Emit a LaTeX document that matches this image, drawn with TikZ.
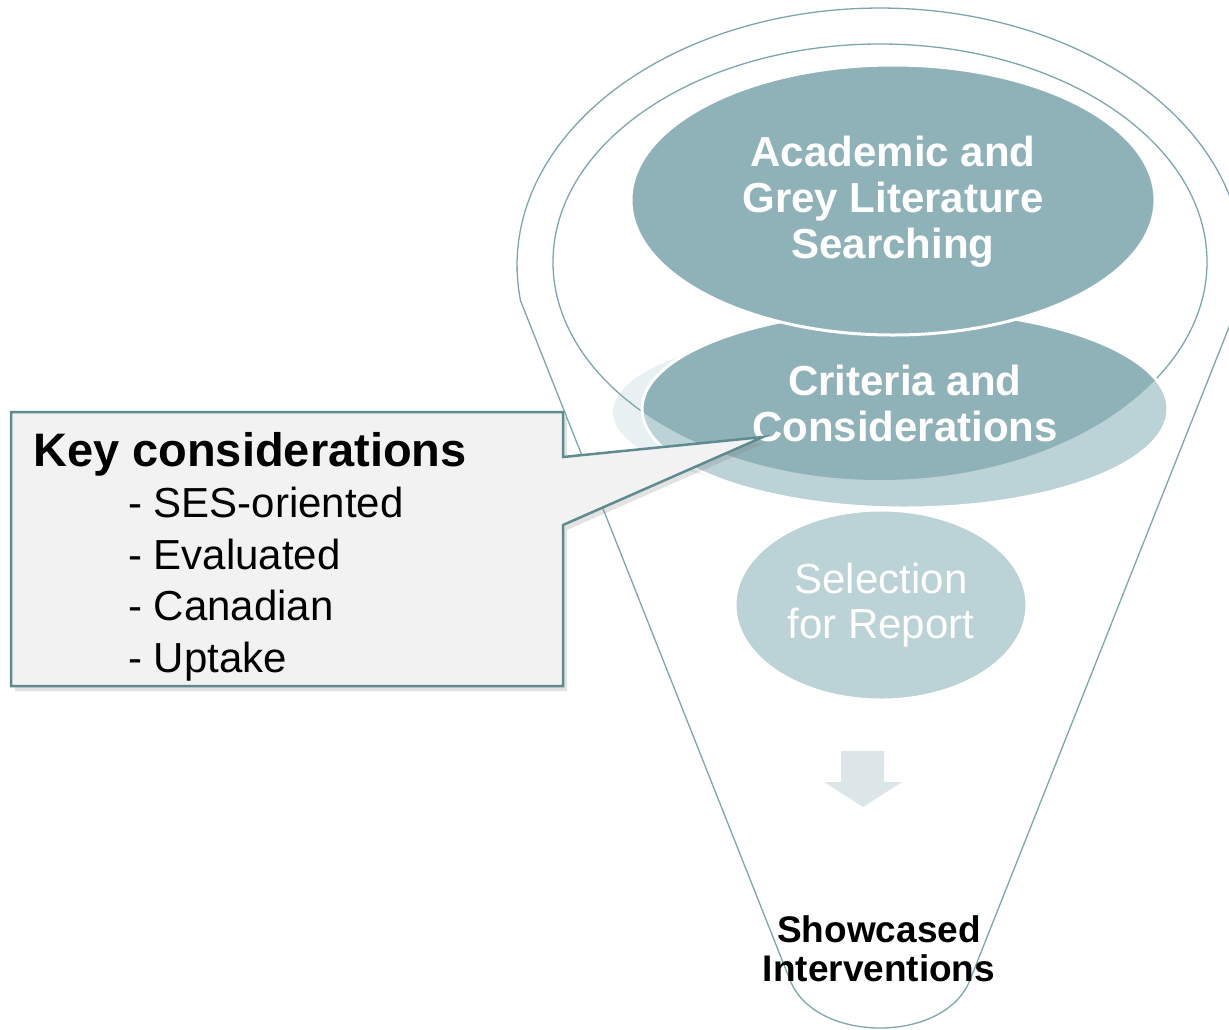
\documentclass[tikz,border=0pt]{standalone}
\usepackage{fontspec}
\setmainfont{Liberation Sans}
\usetikzlibrary{shapes.geometric,shadows}

\definecolor{funnelline}{HTML}{7DA6AC}
\definecolor{stagedark}{HTML}{8FB2B8}
\definecolor{stagepale}{HTML}{BBD2D6}
\definecolor{stageghost}{HTML}{E9F0F1}
\definecolor{arrowpale}{HTML}{DCE5E7}
\definecolor{calloutline}{HTML}{5F8A90}
\definecolor{calloutfill}{HTML}{F2F2F2}

\tikzset{
  funnel/.style={draw=funnelline, line width=1.3},
  stage/.style={ellipse, draw=white, line width=3, fill=stagedark, inner sep=0},
  stagetext/.style={text=white, align=center, inner sep=0,
    font=\fontsize{42}{46}\selectfont\bfseries},
  keytext/.style={anchor=base west, inner sep=0, font=\fontsize{42}{50}\selectfont},
}

\begin{document}
\begin{tikzpicture}[x=1pt,y=-1pt]
  \useasboundingbox (0,0) rectangle (1229,1029);

  % funnel body
  \draw[funnel] plot[domain=172:368, samples=90] ({880+363*cos(\x)},{265+257*sin(\x)})
    -- (970,980) .. controls (945,1044) and (815,1044) .. (790,980) -- cycle;

  % faint copy behind the second stage (left side only)
  \begin{scope}
    \clip (590,300) rectangle (880,480);
    \fill[stageghost] (895,412) ellipse [x radius=282, y radius=86];
  \end{scope}

  % mouth of the funnel
  \draw[funnel] (880,262) ellipse [x radius=327, y radius=218];

  % second stage: pale below the mouth, full colour inside it
  \fill[stagepale] (905,409) ellipse [x radius=263, y radius=99];
  \begin{scope}
    \clip (880,262) ellipse [x radius=327, y radius=218];
    \fill[stagedark] (905,409) ellipse [x radius=263, y radius=99];
  \end{scope}
  \draw[white, line width=3] (905,409) ellipse [x radius=263, y radius=99];
  \node[stagetext] (crit) at (905,403) {Criteria and\\Considerations};

  % third stage
  \node[stage, fill=stagepale, minimum width=292, minimum height=190] (select) at (881,605) {};
  \node[stagetext, font=\fontsize{42}{45}\selectfont] at (select.center) {Selection\\for Report};

  % first stage
  \node[stage, minimum width=524, minimum height=270] (search) at (893,200) {};
  \node[stagetext] at (893,202) {Academic and\\Grey Literature\\Searching};

  % down arrow
  \fill[arrowpale] (841,751) -- (884,751) -- (884,782) -- (902,782) -- (863,807)
    -- (824,782) -- (841,782) -- cycle;

  \node[align=center, inner sep=0, font=\fontsize{37}{39}\selectfont\bfseries] (result)
    at (879,949) {Showcased\\Interventions};

  % callout
  \coordinate (crittip) at (763,437);
  \draw[calloutline, line width=2.5, fill=calloutfill,
        drop shadow={shadow xshift=4, shadow yshift=5, opacity=0.22}]
    (11,412) -- (563,412) -- (563,457) -- (crittip) -- (563,525) -- (563,686)
    -- (11,686) -- cycle;
  \node[keytext, font=\fontsize{47}{52}\selectfont\bfseries] (keyhead) at (33,466) {Key considerations};
  \foreach \keytxt [count=\i] in {SES-oriented, Evaluated, Canadian, Uptake}
    \node[keytext] (key\i) at (128,{466+51.5*\i}) {- \keytxt};
\end{tikzpicture}
\end{document}
